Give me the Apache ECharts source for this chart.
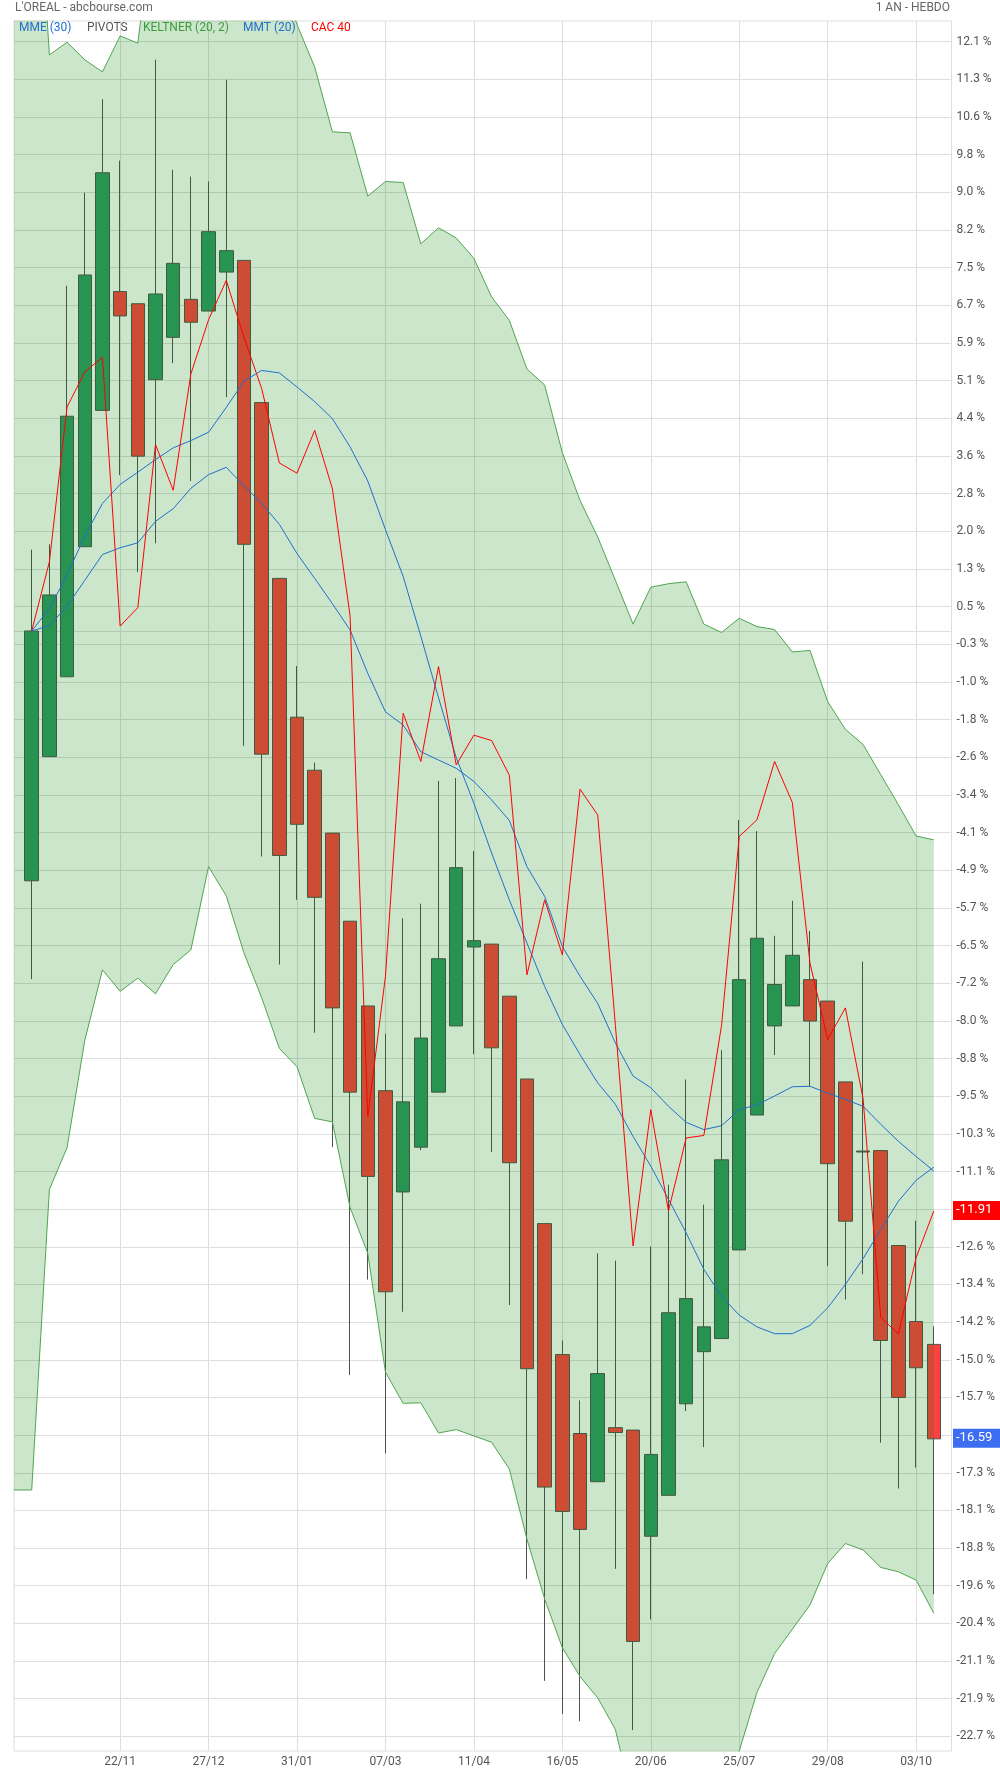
<!DOCTYPE html>
<html>
<head>
<meta charset="utf-8">
<script src="https://cdn.jsdelivr.net/npm/echarts@6/dist/echarts.min.js"></script>
<style>
html,body{margin:0;padding:0;background:#ffffff;}
#chart{width:1000px;height:1774px;}
</style>
</head>
<body>
<div id="chart"></div>
<script>
// ---------- DATA ----------
// weekly categories (first and last are padding weeks used by the Keltner band / axis range)
const DATES = ['11/10','18/10','25/10','01/11','08/11','15/11','22/11','29/11','06/12','13/12','20/12','27/12',
  '03/01','10/01','17/01','24/01','31/01','07/02','14/02','21/02','28/02','07/03','14/03','21/03','28/03',
  '04/04','11/04','18/04','25/04','02/05','09/05','16/05','23/05','30/05','06/06','13/06','20/06','27/06',
  '04/07','11/07','18/07','25/07','01/08','08/08','15/08','22/08','29/08','05/09','12/09','19/09','26/09',
  '03/10','10/10','17/10'];
const X_LABELS = ['22/11','27/12','31/01','07/03','11/04','16/05','20/06','25/07','29/08','03/10'];

// L'OREAL weekly candles, in % (18/10 .. 10/10)
const OPEN  = [-5.13,-2.58,-0.94,1.73,4.53,6.97,6.72,5.16,6.03,6.81,6.57,7.37,7.61,4.69,1.08,-1.77,-2.86,-4.15,-5.96,-7.70,
  -9.44,-11.52,-10.60,-9.47,-8.11,-6.49,-6.43,-7.50,-9.20,-12.17,-14.86,-16.48,-17.47,-16.36,-16.41,-18.59,-17.75,-15.87,
  -14.80,-14.53,-12.71,-9.94,-8.11,-7.70,-7.16,-7.60,-9.26,-10.70,-10.67,-12.62,-14.18,-14.65];
const CLOSE = [0.00,0.74,4.41,7.31,9.41,6.47,3.59,6.92,7.55,6.34,8.20,7.81,1.78,-2.53,-4.61,-3.97,-5.47,-7.74,-9.47,-11.20,
  -13.57,-9.67,-8.36,-6.73,-4.86,-6.36,-8.56,-10.92,-15.15,-17.58,-18.08,-18.45,-15.25,-16.46,-20.75,-16.91,-14.00,-13.71,
  -14.29,-10.86,-7.16,-6.31,-7.26,-6.66,-8.01,-10.94,-12.12,-10.68,-14.57,-15.74,-15.13,-16.59];
const LOW   = [-7.15,-2.58,-0.94,1.73,4.53,3.20,1.21,1.80,5.50,3.08,6.57,4.80,-2.36,-4.63,-6.85,-5.52,-8.25,-10.60,-15.28,-13.32,
  -16.89,-13.98,-10.66,-9.47,-8.11,-8.69,-10.70,-13.84,-19.47,-21.56,-22.24,-22.39,-17.47,-19.26,-22.57,-20.30,-17.75,-16.02,
  -16.76,-14.53,-12.71,-9.94,-8.71,-7.70,-9.35,-13.04,-13.73,-13.21,-16.67,-17.61,-17.18,-19.78];
const HIGH  = [1.67,1.78,7.09,9.00,10.92,9.66,6.72,11.73,9.47,9.33,9.23,11.32,7.61,4.69,1.08,-0.72,-2.70,-4.15,-5.96,-7.70,
  -8.27,-5.90,-5.60,-3.08,-3.02,-4.52,-6.43,-7.50,-9.20,-12.17,-14.57,-15.80,-12.78,-12.93,-16.41,-12.64,-11.37,-9.21,
  -11.78,-8.61,-3.88,-4.11,-6.26,-5.54,-6.16,-7.60,-9.26,-6.79,-10.67,-12.62,-12.11,-14.28];

// moving averages and CAC 40 comparison (18/10 .. 10/10)
const MMT_20 = [0.00,0.46,1.15,1.95,2.62,3.01,3.26,3.52,3.76,3.91,4.08,4.59,5.13,5.35,5.30,5.01,4.71,4.36,3.78,3.08,
  2.08,1.12,-0.11,-1.37,-2.60,-3.54,-4.56,-5.52,-6.41,-7.30,-8.08,-8.70,-9.28,-9.72,-10.38,-10.99,-11.67,-12.36,
  -13.11,-13.66,-14.05,-14.29,-14.43,-14.43,-14.26,-13.90,-13.42,-12.89,-12.29,-11.71,-11.28,-11.01];
const MME_30 = [0.00,0.11,0.51,1.04,1.57,1.71,1.81,2.25,2.51,2.93,3.21,3.36,2.98,2.62,2.19,1.59,1.08,0.56,0.02,-0.87,
  -1.66,-1.93,-2.48,-2.65,-2.82,-3.09,-3.47,-3.89,-4.84,-5.45,-6.48,-7.09,-7.65,-8.46,-9.14,-9.38,-9.76,-10.09,
  -10.24,-10.16,-9.83,-9.73,-9.55,-9.36,-9.35,-9.49,-9.62,-9.76,-10.13,-10.48,-10.79,-11.09];
const CAC_40 = [0.00,1.42,4.60,5.32,5.62,0.10,0.48,3.83,2.89,5.28,6.39,7.20,6.03,4.98,3.45,3.24,4.12,2.92,0.31,-9.97,
  -7.09,-1.69,-2.68,-0.73,-2.75,-2.14,-2.25,-2.96,-7.06,-5.52,-6.65,-3.25,-3.78,-8.10,-12.63,-9.83,-11.91,-10.41,
  -10.36,-8.10,-4.22,-3.88,-2.68,-3.52,-6.82,-8.39,-7.74,-9.60,-14.10,-14.43,-12.87,-11.91];

// Keltner (20, 2) channel (11/10 .. 10/10)
const KELT_UP  = [17.64,17.64,11.83,12.09,11.73,11.48,12.22,12.07,15.00,14.50,14.20,14.00,14.30,14.60,14.40,13.60,12.45,
  11.58,10.25,10.23,8.93,9.23,9.21,7.95,8.28,8.07,7.65,6.86,6.38,5.38,5.05,3.66,2.68,1.93,1.04,0.14,0.90,0.97,1.01,
  0.14,-0.03,0.26,0.09,0.03,-0.43,-0.40,-1.45,-2.02,-2.33,-2.95,-3.57,-4.21,-4.29];
const KELT_LOW = [-17.64,-17.64,-11.47,-10.61,-8.41,-6.96,-7.40,-7.13,-7.45,-6.85,-6.55,-4.84,-5.44,-6.61,-7.53,-8.57,
  -8.95,-10.01,-10.08,-11.84,-12.78,-15.22,-15.86,-15.85,-16.47,-16.40,-16.53,-16.66,-17.21,-18.65,-19.88,-20.88,
  -21.47,-21.91,-22.56,-24.10,-24.80,-25.00,-25.00,-24.60,-24.00,-23.00,-21.80,-21.00,-20.50,-20.00,-19.15,-18.74,
  -18.87,-19.23,-19.32,-19.49,-20.17];

// right-hand axis tick labels (in %)
const Y_TICK_LABELS = ['12.1','11.3','10.6','9.8','9.0','8.2','7.5','6.7','5.9','5.1','4.4','3.6','2.8','2.0','1.3','0.5',
  '-0.3','-1.0','-1.8','-2.6','-3.4','-4.1','-4.9','-5.7','-6.5','-7.2','-8.0','-8.8','-9.5','-10.3','-11.1','-11.9',
  '-12.6','-13.4','-14.2','-15.0','-15.7','-16.5','-17.3','-18.1','-18.8','-19.6','-20.4','-21.1','-21.9','-22.7'];
const Y_TICK_TOP = 12.1;
const Y_TICK_STEP = 0.77333;
const Y_MIN = -23.0;
const Y_MAX = 12.526;

// ---------- BUILD ----------
const tickValues = Y_TICK_LABELS.map((_, i) => Y_TICK_TOP - i * Y_TICK_STEP);
const pad = (arr) => ['-'].concat(arr, ['-']);
const candleData = ['-'].concat(OPEN.map((o, i) => [o, CLOSE[i], LOW[i], HIGH[i]]), ['-']);
const keltLow = KELT_LOW.concat(['-']);
const keltDiff = KELT_UP.map((u, i) => +(u - KELT_LOW[i]).toFixed(3)).concat(['-']);
const labelPos = (idx) => X_LABELS.indexOf(DATES[idx]) >= 0;

const FONT = 'Roboto, "Noto Sans", sans-serif';
const BLUE = '#1f6fcc';
const GREEN_LINE = '#4ea64e';

const chart = echarts.init(document.getElementById('chart'), null, {renderer: 'canvas'});

const option = {
  animation: false,
  backgroundColor: '#ffffff',
  textStyle: {fontFamily: FONT},
  grid: {
    left: 14, right: 48.5, top: 21, bottom: 23,
    show: true, borderColor: '#dedede', borderWidth: 1,
    containLabel: false, outerBoundsMode: 'none'
  },
  xAxis: {
    type: 'category',
    data: DATES,
    boundaryGap: false,
    axisLine: {show: true, lineStyle: {color: '#dedede'}},
    axisTick: {show: false},
    axisLabel: {
      interval: (i) => labelPos(i),
      color: '#555555', fontSize: 12, margin: 5, fontFamily: FONT
    },
    splitLine: {show: true, interval: (i) => labelPos(i), lineStyle: {color: '#dedede', width: 1}}
  },
  yAxis: {
    type: 'value',
    position: 'right',
    min: Y_MIN, max: Y_MAX,
    scale: true,
    axisLine: {show: false},
    axisTick: {show: false, customValues: tickValues},
    axisLabel: {
      customValues: tickValues,
      color: '#555555', fontSize: 12, margin: 5, fontFamily: FONT,
      formatter: (v) => {
        const i = Math.round((Y_TICK_TOP - v) / Y_TICK_STEP);
        return (Y_TICK_LABELS[i] !== undefined ? Y_TICK_LABELS[i] : '') + ' %';
      }
    },
    splitLine: {show: true, lineStyle: {color: '#dedede', width: 1}}
  },
  series: [
    {
      name: "L'OREAL",
      type: 'candlestick',
      data: candleData,
      barWidth: 14,
      z: 1,
      itemStyle: {
        color: '#339966', color0: '#ff4040',
        borderColor: '#505050', borderColor0: '#505050', borderWidth: 1
      }
    },
    {
      name: 'KELTNER low',
      type: 'line',
      data: keltLow,
      stack: 'kelt', stackStrategy: 'all',
      showSymbol: false, symbol: 'none',
      z: 3,
      lineStyle: {color: GREEN_LINE, width: 1}
    },
    {
      name: 'KELTNER (20, 2)',
      type: 'line',
      data: keltDiff,
      stack: 'kelt', stackStrategy: 'all',
      showSymbol: false, symbol: 'none',
      z: 2,
      lineStyle: {color: GREEN_LINE, width: 1},
      areaStyle: {color: 'rgba(0,128,0,0.2)', opacity: 1}
    },
    {
      name: 'MME (30)',
      type: 'line',
      data: pad(MME_30),
      showSymbol: false, symbol: 'none',
      z: 4,
      lineStyle: {color: BLUE, width: 1}
    },
    {
      name: 'MMT (20)',
      type: 'line',
      data: pad(MMT_20),
      showSymbol: false, symbol: 'none',
      z: 4,
      lineStyle: {color: BLUE, width: 1}
    },
    {
      name: 'CAC 40',
      type: 'line',
      data: pad(CAC_40),
      showSymbol: false, symbol: 'none',
      z: 5,
      lineStyle: {color: '#ff0000', width: 1}
    }
  ]
};
chart.setOption(option);

// ---------- texts and last-value tags ----------
const lastCac = CAC_40[CAC_40.length - 1];
const lastClose = CLOSE[CLOSE.length - 1];
const yCac = chart.convertToPixel({yAxisIndex: 0}, lastCac);
const yClose = chart.convertToPixel({yAxisIndex: 0}, lastClose);

function tag(y, text, bg) {
  return [
    {type: 'rect', left: 953, top: y - 10, shape: {width: 47, height: 19}, style: {fill: bg}, z: 100},
    {type: 'text', left: 956, top: y - 8, style: {text: text, fill: '#ffffff', font: '13px ' + FONT}, z: 101}
  ];
}
function txt(x, text, color, align) {
  return {type: 'text', x: x, y: 28, style: {text: text, fill: color, font: '12px ' + FONT,
    textAlign: align || 'left', textVerticalAlign: 'middle'}, z: 90};
}

chart.setOption({
  graphic: [
    {type: 'text', x: 15, y: 8, style: {text: "L'OREAL - abcbourse.com", fill: '#666666', font: '12px ' + FONT, textVerticalAlign: 'middle'}},
    {type: 'text', x: 950, y: 8, style: {text: '1 AN - HEBDO', fill: '#666666', font: '12px ' + FONT, textAlign: 'right', textVerticalAlign: 'middle'}},
    txt(19, 'MME (30)', BLUE),
    txt(87, 'PIVOTS', '#555555'),
    txt(143, 'KELTNER (20, 2)', '#3f9a3f'),
    txt(243, 'MMT (20)', BLUE),
    txt(311, 'CAC 40', '#ff0000')
  ].concat(tag(yCac, lastCac.toFixed(2), '#ff0000'), tag(yClose, lastClose.toFixed(2), '#3d6ef2'))
});
</script>
</body>
</html>
